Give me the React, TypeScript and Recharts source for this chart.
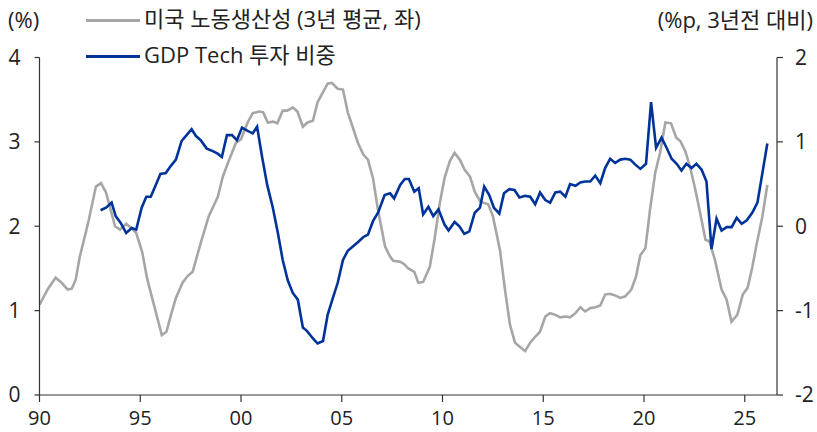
import React from "react";
import { LineChart, Line, XAxis, YAxis } from "recharts";

// 미국 노동생산성 (3년 평균, 좌) — x: year, value: %
const prodYears = [
  1990.0, 1990.4, 1990.8, 1991.1, 1991.4, 1991.6, 1991.8, 1992.0, 1992.25, 1992.45, 1992.8,
  1993.05, 1993.3, 1993.5, 1993.75, 1994.0, 1994.3, 1994.55, 1994.8, 1995.1, 1995.35, 1995.7,
  1996.07, 1996.3, 1996.55, 1996.77, 1997.1, 1997.35, 1997.6, 1998.0, 1998.4, 1998.85, 1999.1,
  1999.35, 1999.75, 2000.0, 2000.33, 2000.58, 2000.9, 2001.1, 2001.33, 2001.6, 2001.8, 2002.07,
  2002.3, 2002.57, 2002.8, 2003.07, 2003.3, 2003.57, 2003.8, 2004.07, 2004.3, 2004.5, 2004.8,
  2005.06, 2005.3, 2005.55, 2005.8, 2006.07, 2006.3, 2006.55, 2006.8, 2007.15, 2007.4, 2007.55,
  2007.9, 2008.1, 2008.3, 2008.6, 2008.8, 2009.04, 2009.37, 2009.6, 2009.87, 2010.1, 2010.36,
  2010.6, 2010.86, 2011.1, 2011.36, 2011.6, 2011.86, 2012.02, 2012.27, 2012.5, 2012.85, 2013.1,
  2013.35, 2013.6, 2013.85, 2014.1, 2014.35, 2014.6, 2014.84, 2015.1, 2015.34, 2015.6, 2015.84,
  2016.1, 2016.33, 2016.6, 2016.84, 2017.08, 2017.33, 2017.58, 2017.83, 2018.07, 2018.3, 2018.57,
  2018.82, 2019.07, 2019.37, 2019.6, 2019.82, 2020.07, 2020.3, 2020.56, 2020.8, 2021.06, 2021.34,
  2021.6, 2021.8, 2022.05, 2022.3, 2022.55, 2022.8, 2023.05, 2023.25, 2023.52, 2023.85, 2024.1,
  2024.34, 2024.63, 2024.9, 2025.14, 2025.37, 2025.6, 2025.87, 2026.12,
];
const prodValues = [
  1.07, 1.25, 1.39, 1.33, 1.25, 1.26, 1.37, 1.64, 1.88, 2.08, 2.47,
  2.51, 2.4, 2.22, 2.0, 1.96, 2.03, 1.98, 1.92, 1.69, 1.37, 1.05,
  0.71, 0.75, 0.97, 1.15, 1.33, 1.41, 1.46, 1.8, 2.12, 2.35, 2.59,
  2.75, 2.99, 3.03, 3.23, 3.34, 3.36, 3.35, 3.23, 3.24, 3.22, 3.37,
  3.37, 3.41, 3.36, 3.18, 3.23, 3.25, 3.47, 3.59, 3.69, 3.7, 3.63,
  3.62, 3.35, 3.17, 2.99, 2.85, 2.79, 2.57, 2.19, 1.76, 1.64, 1.59,
  1.58, 1.55, 1.5, 1.46, 1.33, 1.34, 1.52, 1.84, 2.28, 2.57, 2.77,
  2.87, 2.79, 2.67, 2.59, 2.41, 2.3, 2.28, 2.26, 2.12, 1.72, 1.25,
  0.83, 0.62, 0.57, 0.52, 0.62, 0.69, 0.75, 0.93, 0.97, 0.95, 0.92,
  0.93, 0.92, 0.97, 1.04, 0.99, 1.03, 1.04, 1.06, 1.19, 1.2, 1.18,
  1.15, 1.17, 1.25, 1.4, 1.66, 1.74, 2.2, 2.64, 2.87, 3.23, 3.22,
  3.05, 3.01, 2.89, 2.69, 2.43, 2.14, 1.84, 1.82, 1.6, 1.25, 1.13,
  0.87, 0.95, 1.19, 1.27, 1.51, 1.8, 2.11, 2.49,
];

// GDP Tech 투자 비중 (%p, 3년전 대비, 우)
const techYears = [
  1993.03, 1993.3, 1993.58, 1993.78, 1994.03, 1994.3, 1994.58, 1994.8, 1995.07, 1995.3, 1995.52,
  1995.77, 1996.0, 1996.27, 1996.5, 1996.77, 1997.05, 1997.3, 1997.55, 1997.76, 1998.0, 1998.3,
  1998.6, 1998.84, 1999.05, 1999.3, 1999.55, 1999.8, 2000.05, 2000.33, 2000.58, 2000.8, 2001.04,
  2001.3, 2001.58, 2001.83, 2002.07, 2002.32, 2002.57, 2002.82, 2003.07, 2003.27, 2003.57, 2003.8,
  2004.07, 2004.3, 2004.56, 2004.8, 2005.06, 2005.3, 2005.55, 2005.8, 2006.06, 2006.3, 2006.55,
  2006.8, 2007.13, 2007.4, 2007.6, 2007.9, 2008.13, 2008.33, 2008.6, 2008.82, 2009.04, 2009.3,
  2009.54, 2009.8, 2010.1, 2010.3, 2010.6, 2010.84, 2011.08, 2011.33, 2011.6, 2011.86, 2012.07,
  2012.32, 2012.55, 2012.82, 2013.05, 2013.32, 2013.57, 2013.82, 2014.1, 2014.35, 2014.6, 2014.84,
  2015.1, 2015.34, 2015.6, 2015.84, 2016.1, 2016.33, 2016.6, 2016.84, 2017.08, 2017.33, 2017.58,
  2017.83, 2018.07, 2018.32, 2018.57, 2018.82, 2019.07, 2019.32, 2019.57, 2019.82, 2020.1, 2020.35,
  2020.6, 2020.87, 2021.12, 2021.37, 2021.62, 2021.86, 2022.1, 2022.36, 2022.6, 2022.86, 2023.1,
  2023.35, 2023.6, 2023.85, 2024.1, 2024.35, 2024.6, 2024.85, 2025.1, 2025.37, 2025.63, 2026.12,
];
const techValues = [
  0.19, 0.22, 0.28, 0.12, 0.04, -0.08, -0.02, -0.04, 0.22, 0.35, 0.35,
  0.49, 0.62, 0.63, 0.71, 0.79, 1.01, 1.08, 1.15, 1.07, 1.02, 0.92,
  0.89, 0.86, 0.82, 1.08, 1.08, 1.02, 1.17, 1.13, 1.1, 1.18, 0.83,
  0.49, 0.22, -0.08, -0.4, -0.64, -0.79, -0.87, -1.2, -1.24, -1.33, -1.39,
  -1.36, -1.05, -0.85, -0.67, -0.4, -0.29, -0.24, -0.19, -0.13, -0.1, 0.06,
  0.16, 0.37, 0.39, 0.33, 0.49, 0.56, 0.56, 0.41, 0.45, 0.14, 0.23,
  0.12, 0.2, 0.02, -0.05, 0.05, 0.0, -0.09, -0.06, 0.16, 0.22, 0.47,
  0.37, 0.22, 0.15, 0.39, 0.44, 0.43, 0.34, 0.36, 0.35, 0.26, 0.4,
  0.31, 0.28, 0.4, 0.41, 0.35, 0.5, 0.48, 0.52, 0.53, 0.53, 0.6,
  0.51, 0.69, 0.8, 0.75, 0.79, 0.8, 0.79, 0.73, 0.68, 0.74, 1.47,
  0.93, 1.05, 0.93, 0.8, 0.74, 0.66, 0.74, 0.69, 0.74, 0.67, 0.53,
  -0.27, 0.09, -0.05, -0.01, -0.01, 0.1, 0.03, 0.07, 0.16, 0.28, 0.98,
];

const xTicks = [1990, 1995, 2000, 2005, 2010, 2015, 2020, 2025];
const leftTicks = [0, 1, 2, 3, 4];
const rightTicks = [-2, -1, 0, 1, 2];

const prodLabel = "미국 노동생산성 (3년 평균, 좌)";
const techLabel = "GDP Tech 투자 비중";
const leftUnit = "(%)";
const rightUnit = "(%p, 3년전 대비)";

const prodData = prodYears.map((x, i) => ({ x, v: prodValues[i] }));
const techData = techYears.map((x, i) => ({ x, v: techValues[i] }));

const GRAY = "#a6a6a6";
const BLUE = "#00339a";
const AXIS = "#333333";
const FONT = "'Open Sans', 'Noto Sans CJK KR', sans-serif";
const FS = 21;

export default function App() {
  const textStyle: React.CSSProperties = {
    position: "absolute",
    fontFamily: FONT,
    fontSize: 22,
    color: "#222",
    lineHeight: "26px",
    whiteSpace: "nowrap",
  };
  return (
    <div style={{ position: "absolute", left: 0, top: 0, width: 817, height: 432, background: "#fff" }}>
      <LineChart
        width={817}
        height={432}
        margin={{ top: 57.5, right: 0, left: 0, bottom: 0 }}
        style={{ fontFamily: FONT }}
      >
        <XAxis
          dataKey="x"
          type="number"
          domain={[1990, 2026.6]}
          ticks={xTicks}
          allowDataOverflow
          tickFormatter={(y: number) => String(y % 100).padStart(2, "0")}
          height={37}
          tickSize={7}
          tickMargin={9}
          axisLine={{ stroke: AXIS, strokeWidth: 1.2 }}
          tickLine={{ stroke: AXIS, strokeWidth: 1.2 }}
          tick={{ fill: "#222", fontSize: 20 }}
        />
        <YAxis
          yAxisId="left"
          domain={[0, 4]}
          ticks={leftTicks}
          width={39.5}
          tickSize={5}
          tickMargin={14}
          axisLine={{ stroke: AXIS, strokeWidth: 1.2 }}
          tickLine={{ stroke: AXIS, strokeWidth: 1.2 }}
          tick={{ fill: "#222", fontSize: FS }}
        />
        <YAxis
          yAxisId="right"
          orientation="right"
          domain={[-2, 2]}
          ticks={rightTicks}
          width={40}
          tickSize={6}
          tickMargin={12}
          axisLine={{ stroke: AXIS, strokeWidth: 1.2 }}
          tickLine={{ stroke: AXIS, strokeWidth: 1.2 }}
          tick={{ fill: "#222", fontSize: FS, textAnchor: "start" }}
        />
        <Line
          yAxisId="left"
          data={prodData}
          dataKey="v"
          type="linear"
          stroke={GRAY}
          strokeWidth={2.6}
          dot={false}
          isAnimationActive={false}
        />
        <Line
          yAxisId="right"
          data={techData}
          dataKey="v"
          type="linear"
          stroke={BLUE}
          strokeWidth={2.6}
          dot={false}
          isAnimationActive={false}
        />
      </LineChart>
      <div style={{ ...textStyle, left: 8, top: 6 }}>{leftUnit}</div>
      <div style={{ ...textStyle, right: 4, top: 6 }}>{rightUnit}</div>
      <div style={{ position: "absolute", left: 86, top: 19, width: 54, height: 3, background: GRAY }} />
      <div style={{ ...textStyle, left: 144, top: 5 }}>{prodLabel}</div>
      <div style={{ position: "absolute", left: 86, top: 55, width: 54, height: 3, background: BLUE }} />
      <div style={{ ...textStyle, left: 144, top: 41 }}>{techLabel}</div>
    </div>
  );
}
